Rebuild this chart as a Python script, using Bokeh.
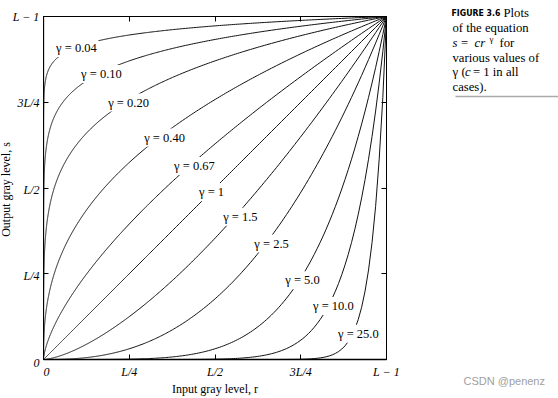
import numpy as np
from bokeh.plotting import figure
from bokeh.layouts import row, column
from bokeh.models import (Range1d, LinearAxis, FixedTicker, LabelSet,
                          ColumnDataSource)
from bokeh.core.properties import value
from bokeh.embed import file_html
from bokeh.resources import INLINE

# ---- data ----
gammas = [0.04, 0.10, 0.20, 0.40, 0.67, 1, 1.5, 2.5, 5.0, 10.0, 25.0]
gamma_text = ["0.04", "0.10", "0.20", "0.40", "0.67", "1", "1.5", "2.5", "5.0", "10.0", "25.0"]
# where each curve label sits (r, s)
label_r = [0.096, 0.169, 0.248, 0.353, 0.440, 0.490, 0.574, 0.665, 0.755, 0.845, 0.918]
label_s = [0.908, 0.832, 0.749, 0.647, 0.564, 0.488, 0.416, 0.338, 0.231, 0.156, 0.075]
tick_pos = [0, 0.25, 0.5, 0.75, 1]
tick_text = ["0", "L/4", "L/2", "3L/4", "L \u2212 1"]
x_title = "Input gray level, r"
y_title = "Output gray level, s"

SERIF = "Liberation Serif"
H = 398
FRAME_TOP, FRAME_BOTTOM = 16, 362          # page pixels of the plot frame
FRAME_H = FRAME_BOTTOM - FRAME_TOP


def blank(w, xr, yr):
    f = figure(width=w, height=H, x_range=xr, y_range=yr,
               output_backend="svg", toolbar_location=None,
               min_border_left=0, min_border_right=0, min_border_top=0, min_border_bottom=0)
    f.axis.visible = False
    f.grid.visible = False
    f.outline_line_color = None
    f.background_fill_color = "white"
    f.border_fill_color = "white"
    return f

# ================= left strip: y tick labels + y title =================
# its y range is the chart's s-range extended to the full canvas height
ys = blank(43, Range1d(0, 43),
           Range1d(-(H - FRAME_BOTTOM) / FRAME_H, FRAME_BOTTOM / FRAME_H))
ys.text(x=[39] * len(tick_pos), y=tick_pos, text=tick_text, text_font=value(SERIF),
        text_font_style="italic", text_font_size=value("12px"),
        text_align="right", text_baseline="middle", text_color="black")
ys.text(x=[5.5], y=[0.5], text=[y_title], text_font=value(SERIF),
        text_font_size=value("12px"), angle=np.pi / 2,
        text_align="center", text_baseline="middle", text_color="black")

# ================= main chart =================
p = figure(width=363, height=H, x_range=Range1d(0, 1), y_range=Range1d(0, 1),
           output_backend="svg", toolbar_location=None,
           min_border_left=0, min_border_right=20, min_border_top=16, min_border_bottom=36)
p.grid.visible = False
p.outline_line_color = "black"
p.outline_line_width = 1
p.background_fill_color = "white"
p.border_fill_color = "white"

ticker = FixedTicker(ticks=tick_pos)

xa = p.xaxis[0]
xa.ticker = ticker
xa.major_label_overrides = {t: s for t, s in zip(tick_pos, tick_text)}
xa.major_label_text_font = SERIF
xa.major_label_text_font_style = "italic"
xa.major_label_text_font_size = "12px"
xa.major_label_text_color = "black"
xa.major_label_standoff = 5
xa.axis_label = x_title
xa.axis_label_text_font = SERIF
xa.axis_label_text_font_style = "normal"
xa.axis_label_text_font_size = "12px"
xa.axis_label_text_color = "black"
xa.axis_label_standoff = 0

ya = p.yaxis[0]
ya.ticker = ticker
ya.major_label_overrides = {t: "" for t in tick_pos}
ya.major_label_text_font_size = "0px"
ya.major_label_standoff = 0

for ax in (xa, ya):
    ax.major_tick_in = 5
    ax.major_tick_out = 0
    ax.minor_tick_line_color = None
    ax.axis_line_color = "black"
    ax.axis_line_width = 1.3
    ax.major_tick_line_color = "black"

for loc in ("above", "right"):
    ax = LinearAxis(ticker=ticker, major_tick_in=5, major_tick_out=0,
                    minor_tick_line_color=None, axis_line_color="black",
                    major_label_overrides={t: "" for t in tick_pos},
                    major_label_text_font_size="0px", major_label_standoff=0)
    p.add_layout(ax, loc)

# ---- curves s = r^gamma ----
r = np.concatenate([[0.0], np.geomspace(1e-7, 1, 1500)])
for g in gammas:
    p.line(r, r ** g, line_color="#111111", line_width=1)

# ---- curve labels ----
src = ColumnDataSource(dict(x=label_r, y=label_s,
                            t=["\u03b3 = " + s for s in gamma_text]))
p.add_layout(LabelSet(x="x", y="y", text="t", source=src,
                      text_font=value(SERIF), text_font_size=value("12.5px"),
                      text_align="center", text_baseline="middle",
                      text_color="black",
                      background_fill_color="white",
                      border_line_color="white", border_line_width=4))

# ================= caption panel (page pixel coordinates) =================
q = blank(152, Range1d(406, 558), Range1d(H, 0))
SANS_N = "Liberation Sans Narrow, DejaVu Sans Condensed, DejaVu Sans"
cap = ColumnDataSource(dict(
    x=[451, 503, 452, 452, 460.5, 474, 489, 499, 452, 452, 461, 464.5, 472.5, 452],
    y=[12.5, 12.5, 27.5, 42.5, 42.5, 42.5, 38.5, 42.5, 57.3, 71.7, 71.7, 71.7, 71.7, 86],
    t=["FIGURE 3.6", "Plots", "of the equation", "s", "=", "cr", "\u03b3", "for",
       "various values of", "\u03b3", "(", "c", "= 1 in all", "cases)."],
    font=[SANS_N] + [SERIF] * 13,
    style=["bold", "normal", "normal", "italic", "normal", "italic", "normal", "normal",
           "normal", "normal", "normal", "italic", "normal", "normal"],
    size=["8.7px", "12.7px", "12.7px", "12.7px", "12.7px", "12.7px", "9px", "12.7px",
          "12.7px", "12.7px", "12.7px", "12.7px", "12.7px", "12.7px"],
))
q.text(x="x", y="y", text="t", source=cap, text_font="font", text_font_style="style",
       text_font_size="size", text_align="left", text_baseline="middle",
       text_color="black")

q.line(x=[455, 558], y=[96, 96], line_color="#aaaaaa", line_width=1.5)

q.text(x=[463], y=[380], text=["CSDN @penenz"], text_font=value("Liberation Sans"),
       text_font_size=value("11px"), text_color="#a0a0a0",
       text_align="left", text_baseline="middle")

layout = row(column(ys, spacing=0), p, column(q, spacing=0), spacing=0)
open("out.html", "w").write(file_html(layout, INLINE))
